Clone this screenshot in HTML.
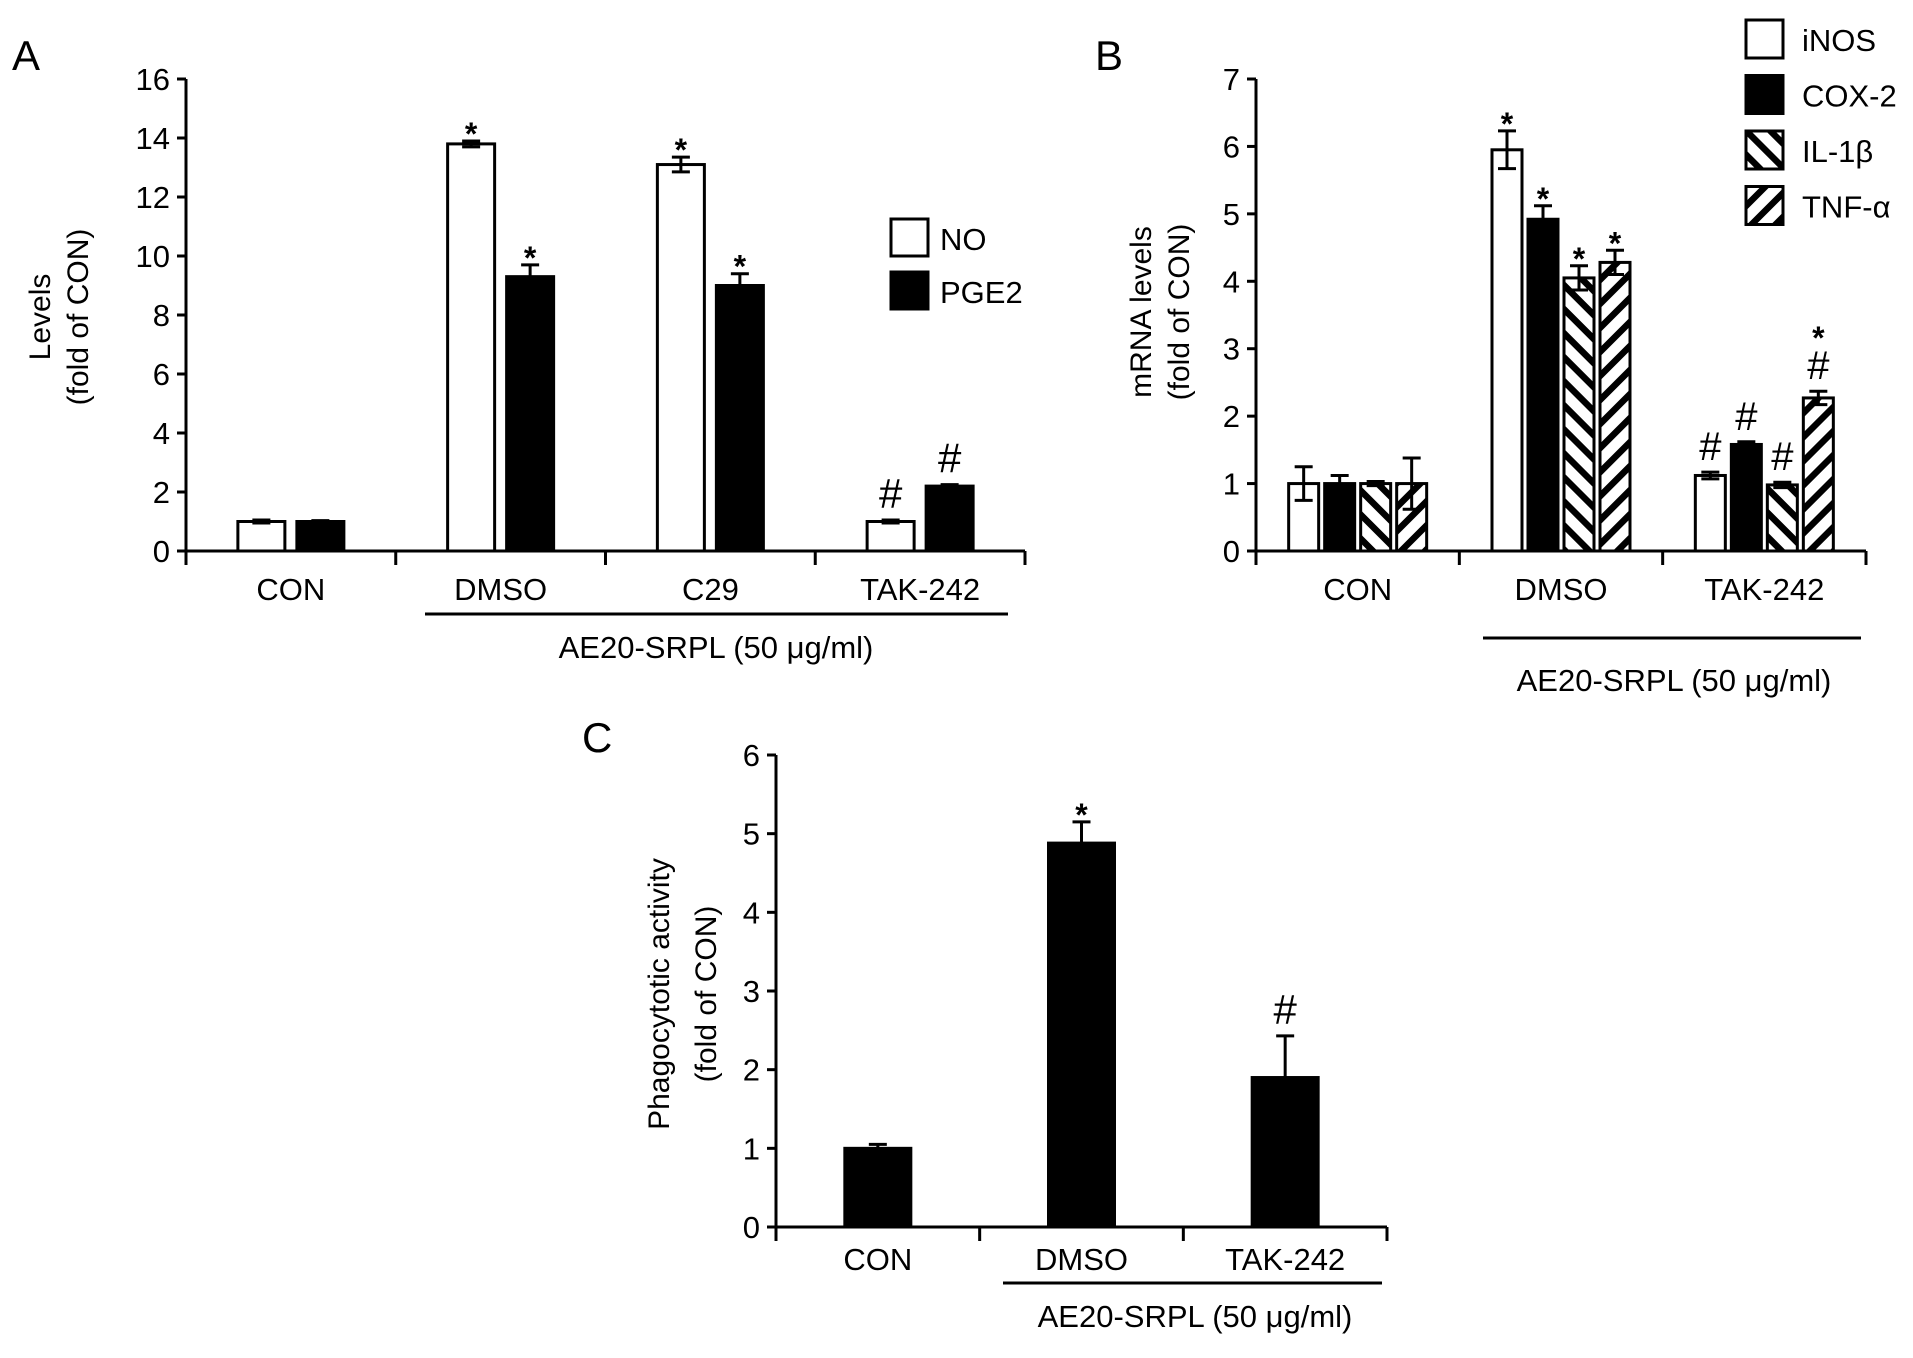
<!DOCTYPE html>
<html><head><meta charset="utf-8">
<style>
html,body{margin:0;padding:0;background:#fff;}
svg{display:block;font-family:"Liberation Sans",Arial,sans-serif;}
</style></head>
<body>
<svg id="fig" width="1913" height="1358" viewBox="0 0 1913 1358" xmlns="http://www.w3.org/2000/svg">
<defs>
<pattern id="hatchBack" patternUnits="userSpaceOnUse" width="17" height="17" patternTransform="rotate(-45)">
<rect width="17" height="17" fill="#fff"/><rect x="0" y="0" width="6.5" height="17" fill="#000"/></pattern>
<pattern id="hatchFwd" patternUnits="userSpaceOnUse" width="17" height="17" patternTransform="rotate(45)">
<rect width="17" height="17" fill="#fff"/><rect x="0" y="0" width="6.5" height="17" fill="#000"/></pattern>
</defs>
<g id="gA"></g>
<g id="gB"></g>
<g id="gC"></g>
</svg>
<script>
// Panel A data
const aCategories = ["CON","DMSO","C29","TAK-242"];
const aSeries = ["NO","PGE2"];
const aNO = [1.0, 13.8, 13.1, 1.0];
const aNOerr = [0.05, 0.1, 0.25, 0.05];
const aPGE2 = [1.0, 9.3, 9.0, 2.2];
const aPGE2err = [0.03, 0.4, 0.4, 0.05];
const aNOmark = ["", "*", "*", "#"];
const aPGE2mark = ["", "*", "*", "#"];
const aTicks = [0,2,4,6,8,10,12,14,16];

// Panel B data
const bCategories = ["CON","DMSO","TAK-242"];
const bSeries = ["iNOS","COX-2","IL-1β","TNF-α"];
const bINOS = [1.0, 5.95, 1.12];
const bINOSerr = [0.25, 0.28, 0.05];
const bCOX2 = [1.0, 4.92, 1.58];
const bCOX2err = [0.12, 0.2, 0.04];
const bIL1B = [1.0, 4.05, 0.98];
const bIL1Berr = [0.03, 0.18, 0.04];
const bTNFA = [1.0, 4.28, 2.27];
const bTNFAerr = [0.38, 0.18, 0.1];
const bMarks = [["","*","#"],["","*","#"],["","*","#"],["","*","*#"]];
const bTicks = [0,1,2,3,4,5,6,7];

// Panel C data
const cCategories = ["CON","DMSO","TAK-242"];
const cValues = [1.0, 4.88, 1.9];
const cErr = [0.05, 0.27, 0.53];
const cMarks = ["", "*", "#"];
const cTicks = [0,1,2,3,4,5,6];

const NS="http://www.w3.org/2000/svg";
function mk(parent, tag, attrs, text){
  const e=document.createElementNS(NS,tag);
  for(const k in attrs) e.setAttribute(k,attrs[k]);
  if(text!==undefined) e.textContent=text;
  parent.appendChild(e); return e;
}

function drawPanel(g, cfg){
  const {x0,x1,y0,yTop,ymax,ticks,cats,series,errs,fills,barW,step,marks,fs} = cfg;
  const ys = v => y0 - (v/ymax)*(y0-yTop);
  const gw = (x1-x0)/cats.length;
  const xs = (ci,si) => x0 + gw*(ci+0.5) - (step*(series.length-1))/2 + step*si - barW/2;
  const yAx = mk(g,'line',{x1:x0,y1:yTop,x2:x0,y2:y0+1,stroke:'#000','stroke-width':3});
  
  
  const xAx = mk(g,'line',{x1:x0-8,y1:y0,x2:x1,y2:y0,stroke:'#000','stroke-width':3});
  
  
  ticks.forEach(t=>{
    const y=ys(t);
    const tk=mk(g,'line',{x1:x0-9,y1:y,x2:x0,y2:y,stroke:'#000','stroke-width':3});
    
    
    const tl=mk(g,'text',{x:x0-16,y:y+11,'font-size':fs,'text-anchor':'end'},String(t));
    
    
  });
  for(let i=0;i<=cats.length;i++){
    const x=x0+gw*i;
    const tk=mk(g,'line',{x1:x,y1:y0,x2:x,y2:y0+14,stroke:'#000','stroke-width':3});
    
    
  }
  cats.forEach((c,ci)=>{
    const t=mk(g,'text',{x:x0+gw*(ci+0.5),y:cfg.labelY,'font-size':fs,'text-anchor':'middle'},c);
    
    
  });
  series.forEach((vals,si)=>{
    vals.forEach((v,ci)=>{
      const x=xs(ci,si), y=ys(v), h=y0-y;
      const r=mk(g,'rect',{x:x,y:y,width:barW,height:h,fill:fills[si],stroke:'#000','stroke-width':3});
      
      
      const e=errs[si][ci], cx=x+barW/2, ye=ys(v+e), yl=ys(v-e);
      const eb=mk(g,'path',{d:`M${cx},${yl}V${ye}M${cx-9},${ye}H${cx+9}`+(fills[si]==='#000'?'':`M${cx-9},${yl}H${cx+9}`),stroke:'#000','stroke-width':3,fill:'none'});
      
      
      const m=marks[si][ci];
      let my=ye-12;
      for(let k=m.length-1;k>=0;k--){
        const ch=m[k];
        const big = ch==='#';
        const t=mk(g,'text',{x:cx,y:big?my:my+16,'font-size':big?(cfg.hashFs||42):32,'text-anchor':'middle','font-weight':big?'normal':'bold'},ch);
        
        
        my -= big?46:28;
      }
    });
  });
  return {ys};
}

const gA=document.getElementById('gA');
drawPanel(gA,{x0:186,x1:1025,y0:551,yTop:79,ymax:16,ticks:aTicks,cats:aCategories,
  series:[aNO,aPGE2],errs:[aNOerr,aPGE2err],fills:['#fff','#000'],names:['no','pge2'],
  barW:47,step:59,marks:[aNOmark,aPGE2mark],fs:31,labelY:600});
const gB=document.getElementById('gB');
drawPanel(gB,{x0:1256,x1:1866,y0:551,yTop:79,ymax:7,ticks:bTicks,cats:bCategories,
  series:[bINOS,bCOX2,bIL1B,bTNFA],errs:[bINOSerr,bCOX2err,bIL1Berr,bTNFAerr],
  fills:['#fff','#000','url(#hatchBack)','url(#hatchFwd)'],names:['inos','cox2','il1b','tnfa'],
  barW:30,step:36,marks:bMarks,fs:31,labelY:600,hashFs:40});
const gC=document.getElementById('gC');
drawPanel(gC,{x0:776,x1:1387,y0:1227,yTop:755,ymax:6,ticks:cTicks,cats:cCategories,
  series:[cValues],errs:[cErr],fills:['#000'],names:['phago'],
  barW:66,step:0,marks:[cMarks],fs:31,labelY:1270});

function txt(parent,attrs,s,name){
  const t=mk(parent,'text',attrs,s);
  
  
  return t;
}
function line(parent,attrs,name){
  const l=mk(parent,'line',Object.assign({stroke:'#000','stroke-width':3},attrs));
  
  
}
txt(gA,{x:12,y:70,'font-size':42},'A','panel-label-a');
txt(gB,{x:1095,y:70,'font-size':42},'B','panel-label-b');
txt(gC,{x:582,y:752,'font-size':42},'C','panel-label-c');
txt(gA,{transform:'translate(50,317) rotate(-90)','font-size':30,'text-anchor':'middle'},'Levels','y-axis-title-a');
txt(gA,{transform:'translate(88,317) rotate(-90)','font-size':30,'text-anchor':'middle'},'(fold of CON)','y-axis-subtitle-a');
txt(gB,{transform:'translate(1151,312) rotate(-90)','font-size':30,'text-anchor':'middle'},'mRNA levels','y-axis-title-b');
txt(gB,{transform:'translate(1189,312) rotate(-90)','font-size':30,'text-anchor':'middle'},'(fold of CON)','y-axis-subtitle-b');
txt(gC,{transform:'translate(669,994) rotate(-90)','font-size':30,'text-anchor':'middle'},'Phagocytotic activity','y-axis-title-c');
txt(gC,{transform:'translate(716,994) rotate(-90)','font-size':30,'text-anchor':'middle'},'(fold of CON)','y-axis-subtitle-c');
line(gA,{x1:425,y1:614,x2:1008,y2:614},'treatment-underline-a');
txt(gA,{x:716,y:658,'font-size':31,'text-anchor':'middle'},'AE20-SRPL (50 μg/ml)','treatment-label-a');
line(gB,{x1:1483,y1:638,x2:1861,y2:638},'treatment-underline-b');
txt(gB,{x:1674,y:691,'font-size':31,'text-anchor':'middle'},'AE20-SRPL (50 μg/ml)','treatment-label-b');
line(gC,{x1:1003,y1:1283,x2:1382,y2:1283},'treatment-underline-c');
txt(gC,{x:1195,y:1327,'font-size':31,'text-anchor':'middle'},'AE20-SRPL (50 μg/ml)','treatment-label-c');
const legA=mk(gA,'g',{});


const aFills=['#fff','#000'];
aSeries.forEach((s,i)=>{
  const y=219+i*53;
  const r=mk(legA,'rect',{x:891,y:y,width:37,height:37,fill:aFills[i],stroke:'#000','stroke-width':3});
  
  
  txt(legA,{x:940,y:y+31,'font-size':31},s,'legend-entry');
});
const legB=mk(gB,'g',{});


const bFills=['#fff','#000','url(#hatchBack)','url(#hatchFwd)'];
bSeries.forEach((s,i)=>{
  const y=20+i*55.5;
  const r=mk(legB,'rect',{x:1746,y:y,width:37,height:38,fill:bFills[i],stroke:'#000','stroke-width':3});
  
  
  txt(legB,{x:1802,y:y+31,'font-size':31},s,'legend-entry');
});
</script>
</body></html>
